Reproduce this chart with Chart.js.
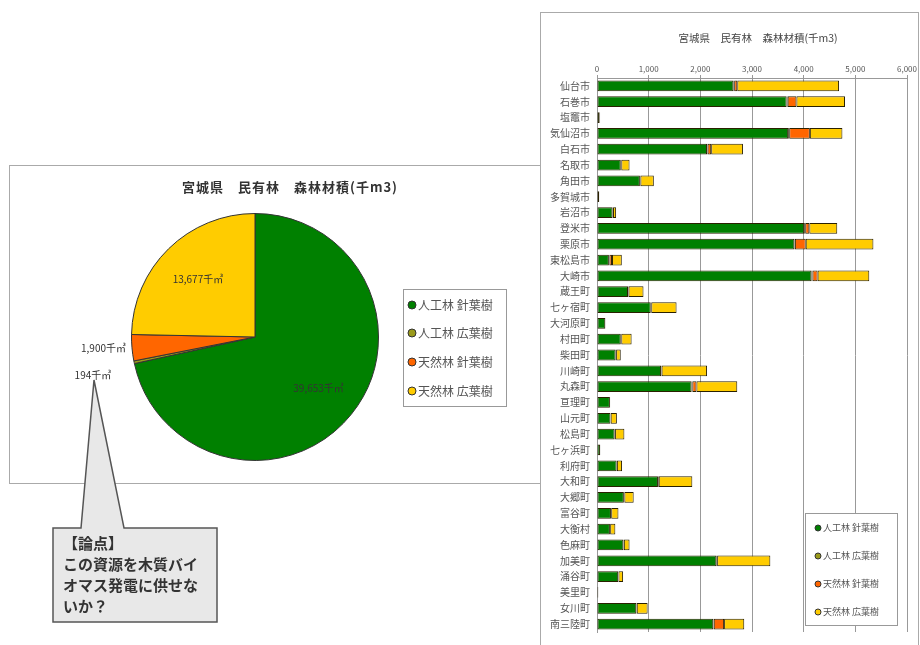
<!DOCTYPE html>
<html>
<head>
<meta charset="utf-8">
<script src="https://cdn.jsdelivr.net/npm/chart.js@4.4.0/dist/chart.umd.min.js"></script>
<style>
  body { margin: 0; width: 920px; height: 645px; background: #fff; position: relative; overflow: hidden; font-family: "Noto Sans CJK JP", sans-serif; }
  #pieBox { position: absolute; left: 9px; top: 165px; width: 540px; height: 317px; border: 1px solid #aaa; background: #fff; }
  #barBox { position: absolute; left: 540px; top: 12px; width: 377px; height: 640px; border: 1px solid #aaa; background: #fff; }
  canvas { display: block; }
  #callout { position: absolute; left: 0; top: 0; }
  #calloutText { position: absolute; left: 63px; top: 532px; font: bold 15px/21px "Noto Sans CJK JP", sans-serif; color: #333; white-space: pre; }
</style>
</head>
<body>
<div id="pieBox"><canvas id="pieChart" width="540" height="317"></canvas></div>
<div id="barBox"><canvas id="barChart" width="377" height="632"></canvas></div>
<svg id="callout" width="920" height="645">
  <polygon points="53,528 81,528 94,380 124,528 217,528 217,622 53,622" fill="#e8e8e8" stroke="#555" stroke-width="1.5"/>
</svg>
<div id="calloutText">【論点】
この資源を木質バイ
オマス発電に供せな
いか？</div>
<script>
// タイトルと系列
const chartTitle = '宮城県　民有林　森林材積(千m3)'
const seriesNames = ['人工林 針葉樹', '人工林 広葉樹', '天然林 針葉樹', '天然林 広葉樹']
const seriesColors = ['#008000', '#9a9a1a', '#ff6600', '#ffcc00']

// 県全体 (千m3)
const pieTotals = [39653, 194, 1900, 13677]

// 市町村別 (千m3)
const cities = ['仙台市', '石巻市', '塩竈市', '気仙沼市', '白石市', '名取市', '角田市', '多賀城市', '岩沼市',
  '登米市', '栗原市', '東松島市', '大崎市', '蔵王町', '七ヶ宿町', '大河原町', '村田町', '柴田町', '川崎町',
  '丸森町', '亘理町', '山元町', '松島町', '七ヶ浜町', '利府町', '大和町', '大郷町', '富谷町', '大衡村',
  '色麻町', '加美町', '涌谷町', '美里町', '女川町', '南三陸町']
const jinkoShin = [2640, 3670, 50, 3700, 2130, 460, 830, 40, 300, 4010, 3820, 230, 4150, 600, 1040, 160, 460, 360,
  1240, 1830, 250, 260, 340, 60, 380, 1180, 520, 270, 250, 510, 2310, 410, 25, 760, 2250]
const jinkoKo = [15, 20, 10, 20, 10, 10, 10, 5, 10, 20, 10, 10, 20, 10, 10, 5, 10, 10, 10, 15, 5, 5, 10, 5, 5,
  15, 10, 5, 5, 10, 15, 5, 0, 10, 10]
const tennenShin = [60, 170, 0, 400, 70, 0, 0, 0, 0, 80, 210, 50, 100, 0, 0, 0, 0, 0, 0, 80, 0, 0, 0, 0, 0, 0,
  0, 0, 0, 0, 0, 0, 0, 0, 200]
const tennenKo = [1970, 940, 0, 630, 615, 160, 260, 0, 60, 540, 1310, 190, 1000, 290, 490, 0, 200, 90, 880, 790,
  0, 120, 180, 0, 100, 650, 180, 140, 100, 110, 1030, 90, 0, 210, 390]
const xTicks = [0, 1000, 2000, 3000, 4000, 5000, 6000]

Chart.defaults.font.family = '"Noto Sans CJK JP", sans-serif'
Chart.defaults.animation = false

// 凡例 (枠つき、丸マーカー)
function drawLegend(ctx, box, rowY, fontSize, markerR, markerX, clip) {
  ctx.save()
  ctx.fillStyle = '#fff'
  ctx.fillRect(box.x, box.y, box.w, box.h)
  ctx.strokeStyle = '#999'
  ctx.lineWidth = 1
  ctx.strokeRect(box.x + 0.5, box.y + 0.5, box.w, box.h)
  if (clip) {
    ctx.beginPath()
    ctx.rect(box.x, box.y, box.w, box.h)
    ctx.clip()
  }
  ctx.font = fontSize + 'px "Noto Sans CJK JP"'
  ctx.textBaseline = 'middle'
  ctx.textAlign = 'left'
  seriesNames.forEach((name, i) => {
    const y = rowY[i]
    ctx.beginPath()
    ctx.arc(box.x + markerX, y, markerR, 0, Math.PI * 2)
    ctx.fillStyle = seriesColors[i]
    ctx.fill()
    ctx.strokeStyle = '#333'
    ctx.stroke()
    ctx.fillStyle = '#555'
    ctx.fillText(name, box.x + markerX + markerR + 2, y)
  })
  ctx.restore()
}

// 円グラフのラベル・タイトル・凡例
const pieExtras = {
  id: 'pieExtras',
  afterDatasetsDraw(chart) {
    const ctx = chart.ctx
    const meta = chart.getDatasetMeta(0)
    const total = pieTotals.reduce((a, b) => a + b, 0)
    ctx.save()
    ctx.font = '10px "Noto Sans CJK JP"'
    ctx.fillStyle = '#333'
    ctx.textBaseline = 'middle'
    meta.data.forEach((arc, i) => {
      const p = arc.getProps(['x', 'y', 'startAngle', 'endAngle', 'outerRadius'], true)
      const mid = (p.startAngle + p.endAngle) / 2
      const text = pieTotals[i].toLocaleString('en-US') + '千㎥'
      if (pieTotals[i] / total > 0.1) {
        ctx.textAlign = 'center'
        ctx.fillText(text, p.x + Math.cos(mid) * p.outerRadius * 0.66, p.y + Math.sin(mid) * p.outerRadius * 0.66)
      } else {
        // 小さい扇形は外側に書く
        let lx = p.x + Math.cos(mid) * (p.outerRadius + 6)
        let ly = p.y + Math.sin(mid) * (p.outerRadius + 6)
        if (pieTotals[i] < 1000) { lx -= 17; ly += 12 }
        ctx.textAlign = 'right'
        ctx.fillText(text, lx, ly)
      }
    })
    ctx.font = 'bold 13px "Noto Sans CJK JP"'
    ctx.letterSpacing = '1px'
    ctx.textAlign = 'center'
    ctx.fillText(chartTitle, 280, 21)
    ctx.restore()
    drawLegend(ctx, { x: 393, y: 123, w: 103, h: 117 }, [139, 167, 196, 225], 12, 4, 9, true)
  }
}

new Chart(document.getElementById('pieChart'), {
  type: 'pie',
  data: {
    labels: seriesNames,
    datasets: [{
      data: pieTotals,
      backgroundColor: seriesColors,
      borderColor: '#333',
      borderWidth: 1
    }]
  },
  options: {
    responsive: false,
    layout: { padding: { top: 47, bottom: 22, left: 121, right: 171 } },
    plugins: { legend: { display: false }, tooltip: { enabled: false } }
  },
  plugins: [pieExtras]
})

// 棒グラフのタイトルと凡例
const barExtras = {
  id: 'barExtras',
  afterDraw(chart) {
    const ctx = chart.ctx
    ctx.save()
    ctx.font = '10.5px "Noto Sans CJK JP"'
    ctx.fillStyle = '#444'
    ctx.textAlign = 'center'
    ctx.textBaseline = 'middle'
    ctx.fillText(chartTitle, 217, 25)
    ctx.restore()
    drawLegend(ctx, { x: 264, y: 500, w: 92, h: 112 }, [515, 543, 571, 599], 9, 3, 13, false)
  }
}

const barSeries = [jinkoShin, jinkoKo, tennenShin, tennenKo]

new Chart(document.getElementById('barChart'), {
  type: 'bar',
  data: {
    labels: cities,
    datasets: barSeries.map((vals, i) => ({
      label: seriesNames[i],
      data: vals,
      backgroundColor: seriesColors[i],
      borderColor: '#2a2000',
      borderWidth: 1,
      borderSkipped: false,
      barPercentage: 0.68,
      categoryPercentage: 1
    }))
  },
  options: {
    indexAxis: 'y',
    responsive: false,
    layout: { padding: { top: 47, bottom: 5, left: 0, right: 11 } },
    scales: {
      x: {
        position: 'top',
        stacked: true,
        min: xTicks[0],
        max: xTicks[xTicks.length - 1],
        afterBuildTicks: (scale) => { scale.ticks = xTicks.map(v => ({ value: v })) },
        afterFit: (scale) => { scale.height = 18 },
        ticks: {
          font: { size: 8 },
          color: '#555',
          padding: 1,
          maxRotation: 0,
          callback: v => v.toLocaleString('en-US')
        },
        grid: { color: '#999', tickLength: 3 },
        border: { color: '#999' }
      },
      y: {
        stacked: true,
        afterFit: (scale) => { scale.width = 56 },
        ticks: { font: { size: 10 }, color: '#555', padding: 7, autoSkip: false },
        grid: { display: false, drawTicks: false },
        border: { color: '#999' }
      }
    },
    plugins: { legend: { display: false }, tooltip: { enabled: false } }
  },
  plugins: [barExtras]
})
</script>
</body>
</html>
